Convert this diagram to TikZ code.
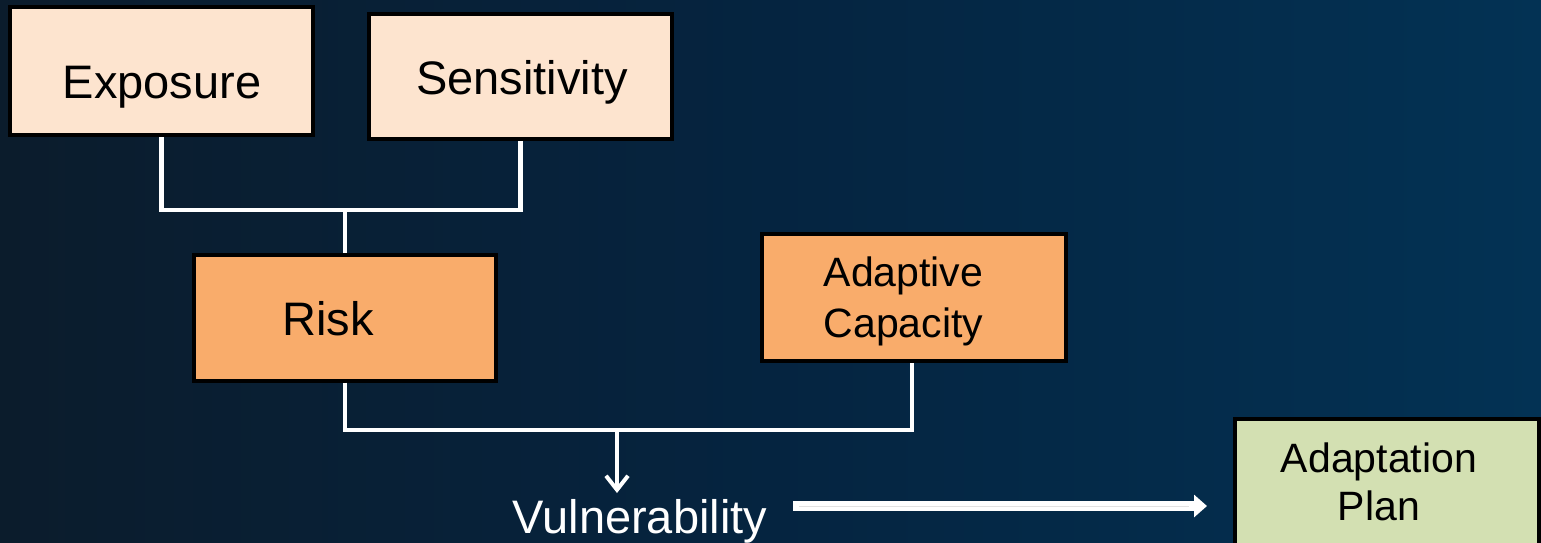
\documentclass[tikz,border=0pt]{standalone}
\usepackage{fontspec}
\setmainfont{Liberation Sans}
\usetikzlibrary{arrows.meta,calc}
\definecolor{bgL}{HTML}{0B1C2C}
\definecolor{bgM}{HTML}{052440}
\definecolor{bgR}{HTML}{033254}
\definecolor{peach}{HTML}{FDE4CF}
\definecolor{orangebox}{HTML}{F9AC6B}
\definecolor{greenbox}{HTML}{D3E0B2}
\definecolor{midgray}{HTML}{E2E2E2}
\begin{document}
\begin{tikzpicture}[x=1pt,y=-1pt,
  boxstyle/.style={draw=black,line width=4pt,inner sep=0pt,rectangle},
  bigtext/.style={font=\fontsize{47}{56}\selectfont,inner sep=0pt,anchor=base,text=black},
  midtext/.style={font=\fontsize{41}{50}\selectfont,inner sep=0pt,anchor=base,text=black},
  wire/.style={draw=white,line width=4.5pt},
]
\useasboundingbox (0,0) rectangle (1541,542);
\clip (0,0) rectangle (1541,542);
\shade[left color=bgL,right color=bgR,middle color=bgM] (0,0) rectangle (1541,542);
% boxes
\node[boxstyle,fill=peach,minimum width=303pt,minimum height=128pt] (exp) at (161.5,71) {};
\node[boxstyle,fill=peach,minimum width=303pt,minimum height=125pt] (sen) at (520.5,76.5) {};
\node[boxstyle,fill=orangebox,minimum width=302pt,minimum height=126pt] (risk) at (344.5,317.5) {};
\node[boxstyle,fill=orangebox,minimum width=304pt,minimum height=127pt] (ac) at (914,297.5) {};
\node[boxstyle,fill=greenbox,minimum width=304pt,minimum height=160pt] (plan) at (1387,499) {};
% texts
\node[bigtext] (expT) at (162,98) {Exposure};
\node[bigtext] (senT) at (522,94) {Sensitivity};
\node[bigtext] (riskT) at (328,335) {Risk};
\node[midtext] (acT1) at (903.5,286) {Adaptive};
\node[midtext] (acT2) at (903.5,337) {Capacity};
\node[midtext] (planT1) at (1379,472) {Adaptation};
\node[midtext] (planT2) at (1379,520) {Plan};
\node[bigtext,text=white] (vul) at (640,533) {Vulnerability};
% junctions
\coordinate (j1) at (345,210);
\coordinate (j2) at (617,430);
\coordinate (vtip) at (617,493);
% connectors
\draw[wire] (exp.south) -- (exp.south |- j1) -- (sen.south |- j1) -- (sen.south);
\draw[wire] (j1) -- (risk.north -| j1);
\draw[wire] (risk.south -| j1) -- (j1 |- j2) -- ([xshift=-2pt]ac.south |- j2) -- ([xshift=-2pt]ac.south);
\draw[wire,-{Straight Barb[length=14pt 0,width=22pt 0,line width=4pt]}] (j2) -- (vtip);
% big arrow
\coordinate (a1) at ($(vul.east)+(26,0)$);
\coordinate (a2) at ($(plan.west)+(-26,0)$);
\draw[draw=white,line width=10pt,-{Triangle[length=13pt 0,width=22pt 0]}] (a1 |- 0,506) -- (a2 |- 0,506);
\draw[draw=midgray,line width=1pt] ($(a1 |- 0,506)+(6,0)$) -- ($(a2 |- 0,506)+(-18,0)$);
\end{tikzpicture}
\end{document}
